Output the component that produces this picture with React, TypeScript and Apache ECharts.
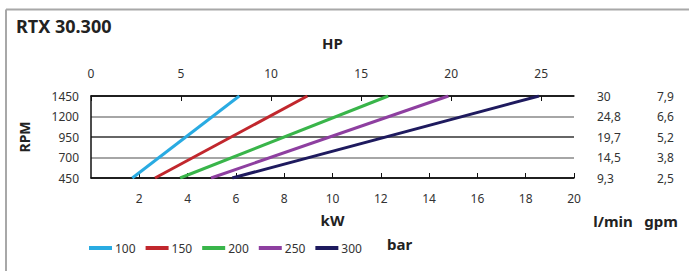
import React, { useEffect, useRef } from "react";
import * as echarts from "echarts";

const rpmCategories = ["450", "700", "950", "1200", "1450"];
const lpmLabels = ["9,3", "14,5", "19,7", "24,8", "30"];
const gpmLabels = ["2,5", "3,8", "5,2", "6,6", "7,9"];
const pressureNames = ["100", "150", "200", "250", "300"];
const seriesColors = ["#29abe2", "#c1272d", "#39b54a", "#8e3fa0", "#1e1a5e"];
// kW at 450 rpm and at 1450 rpm for each pressure
const kwAt450 = [1.71, 2.65, 3.69, 4.97, 5.85];
const kwAt1450 = [6.14, 8.96, 12.31, 14.8, 18.55];
const KW_MAX = 20;
const HP_PER_KW = 1 / 0.7457;

const FONT = "'Noto Sans', sans-serif";

export default function App() {
  const ref = useRef<HTMLDivElement>(null);
  useEffect(() => {
    if (!ref.current) return;
    const chart = echarts.init(ref.current, undefined, { renderer: "svg" });
    const series = pressureNames.map((name, i) => ({
      name,
      type: "line",
      xAxisIndex: 0,
      yAxisIndex: 0,
      showSymbol: false,
      symbol: "none",
      lineStyle: { color: seriesColors[i], width: 3 },
      itemStyle: { color: seriesColors[i] },
      data: [
        [kwAt450[i], rpmCategories[0]],
        [kwAt1450[i], rpmCategories[rpmCategories.length - 1]],
      ],
    }));
    chart.setOption({
      animation: false,
      textStyle: { fontFamily: FONT },
      grid: { left: 91, right: 115, top: 96, bottom: 93 },
      xAxis: [
        {
          type: "value",
          position: "bottom",
          min: 0,
          max: KW_MAX,
          interval: 2,
          name: "kW",
          nameLocation: "middle",
          nameGap: 34,
          nameTextStyle: { fontSize: 15, fontWeight: "bold", color: "#222", fontFamily: FONT },
          axisLine: { show: true, lineStyle: { color: "#111", width: 1.5 } },
          axisTick: { show: true, inside: true, length: 5, lineStyle: { color: "#111" } },
          axisLabel: { showMinLabel: false, margin: 14, fontSize: 12, color: "#333", fontFamily: FONT },
          splitLine: { show: false },
        },
        {
          type: "value",
          position: "top",
          min: 0,
          max: KW_MAX * HP_PER_KW,
          interval: 5,
          name: "HP",
          nameLocation: "middle",
          nameGap: 46,
          nameTextStyle: { fontSize: 15, fontWeight: "bold", color: "#222", fontFamily: FONT },
          axisLine: { show: true, lineStyle: { color: "#111", width: 1.5 } },
          axisTick: { show: true, inside: true, length: 5, lineStyle: { color: "#111" } },
          axisLabel: {
            showMaxLabel: false,
            margin: 17,
            fontSize: 12,
            color: "#333",
            fontFamily: FONT,
          },
          splitLine: { show: false },
        },
      ],
      yAxis: [
        {
          type: "category",
          data: rpmCategories,
          boundaryGap: false,
          name: "RPM",
          nameLocation: "middle",
          nameRotate: 90,
          nameGap: 60,
          nameTextStyle: { fontSize: 14, fontWeight: "bold", color: "#222", fontFamily: FONT },
          axisLine: { show: true, lineStyle: { color: "#111", width: 1.5 } },
          axisTick: { show: false },
          axisLabel: { margin: 12, fontSize: 12, color: "#333", fontFamily: FONT },
          splitLine: {
            show: true,
            lineStyle: { color: ["#111", "#888", "#333", "#888", "#111"], width: 1.5 },
          },
        },
        {
          type: "category",
          data: lpmLabels,
          boundaryGap: false,
          position: "right",
          axisLine: { show: false },
          axisTick: { show: false },
          splitLine: { show: false },
          axisLabel: { margin: 23, fontSize: 12, color: "#333", fontFamily: FONT },
        },
        {
          type: "category",
          data: gpmLabels,
          boundaryGap: false,
          position: "right",
          offset: 60,
          axisLine: { show: false },
          axisTick: { show: false },
          splitLine: { show: false },
          axisLabel: { margin: 23, fontSize: 12, color: "#333", fontFamily: FONT },
        },
      ],
      legend: {
        left: 84,
        top: 237,
        icon: "rect",
        itemWidth: 23,
        itemHeight: 4,
        itemGap: 10,
        data: pressureNames,
        textStyle: { fontSize: 12, color: "#333", fontFamily: FONT, padding: [0, 0, 0, -2] },
      },
      graphic: [
        {
          type: "line",
          shape: { x1: 6, y1: 9.5, x2: 689, y2: 9.5 },
          style: { stroke: "#a8a8a8", lineWidth: 2 },
        },
        {
          type: "line",
          shape: { x1: 6, y1: 9.5, x2: 6, y2: 271 },
          style: { stroke: "#a8a8a8", lineWidth: 2 },
        },
        {
          type: "text",
          left: 16,
          top: 17,
          style: { text: "RTX 30.300", fontSize: 18, fontWeight: "bold", fill: "#222", fontFamily: FONT },
        },
        {
          type: "text",
          x: 613,
          y: 221,
          style: {
            text: "l/min",
            fontSize: 15,
            fontWeight: "bold",
            fill: "#222",
            fontFamily: FONT,
            align: "center",
            verticalAlign: "middle",
          },
        },
        {
          type: "text",
          x: 661,
          y: 221,
          style: {
            text: "gpm",
            fontSize: 15,
            fontWeight: "bold",
            fill: "#222",
            fontFamily: FONT,
            align: "center",
            verticalAlign: "middle",
          },
        },
        {
          type: "text",
          x: 387,
          y: 244,
          style: {
            text: "bar",
            fontSize: 15,
            fontWeight: "bold",
            fill: "#222",
            fontFamily: FONT,
            align: "left",
            verticalAlign: "middle",
          },
        },
      ],
      series,
    });
    return () => chart.dispose();
  }, []);
  return (
    <div
      ref={ref}
      style={{ position: "absolute", left: 0, top: 0, width: 689, height: 271, background: "#fff" }}
    />
  );
}
